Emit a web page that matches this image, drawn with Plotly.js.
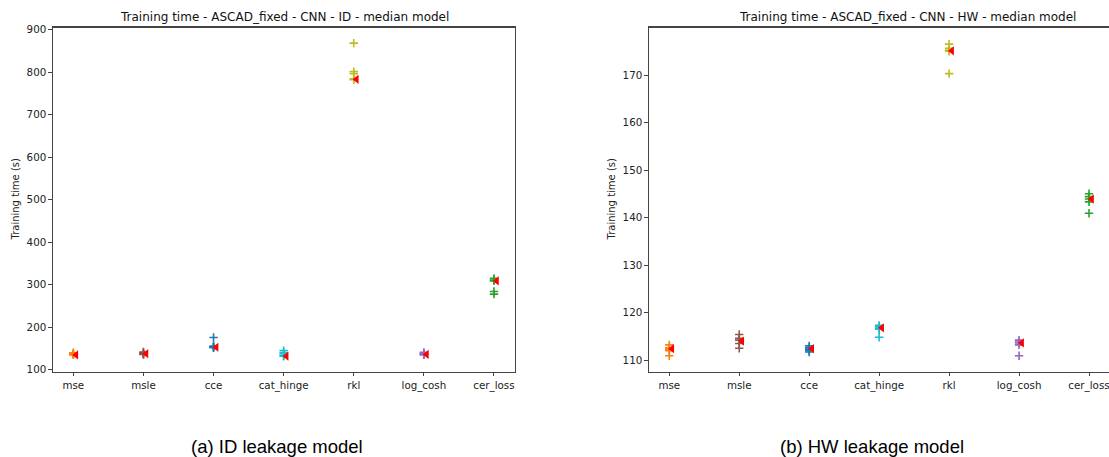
<!DOCTYPE html>
<html>
<head>
<meta charset="utf-8">
<script src="https://cdn.plot.ly/plotly-3.0.1.min.js"></script>
<style>
html,body{margin:0;padding:0;overflow:hidden;background:#fff;}
#chart{width:1170px;height:457px;}
</style>
</head>
<body>
<div id="chart"></div>
<script>
// ---- data ----
const categories = ["mse", "msle", "cce", "cat_hinge", "rkl", "log_cosh", "cer_loss"];
const colors = ["#ff7f0e", "#8c564b", "#1f77b4", "#17becf", "#bcbd22", "#9467bd", "#2ca02c"];

// ID leakage model: training time of each run (s)
const idRuns = [
  [140, 138, 137, 136, 135],
  [142, 140, 138, 137, 136],
  [176, 156, 154, 153, 152],
  [145, 140, 137, 133, 132],
  [868, 801, 796, 784, 782],
  [141, 139, 137, 136, 135],
  [315, 311, 309, 284, 278]
];
const idMedian = [135, 138, 153, 132, 783, 136, 309];

// HW leakage model: training time of each run (s)
const hwRuns = [
  [113.2, 112.6, 112.3, 112.0, 110.9],
  [115.4, 114.6, 114.2, 113.5, 112.5],
  [113.0, 112.6, 112.3, 112.0, 111.7],
  [117.3, 117.0, 116.7, 116.5, 114.8],
  [176.5, 175.6, 175.2, 175.0, 170.3],
  [114.2, 113.8, 113.6, 113.2, 110.9],
  [145.0, 144.4, 143.9, 143.3, 140.9]
];
const hwMedian = [112.4, 114.0, 112.4, 116.8, 175.1, 113.6, 143.9];

const idTitle = "Training time - ASCAD_fixed - CNN - ID - median model";
const hwTitle = "Training time - ASCAD_fixed - CNN - HW - median model";
const idCaption = "(a) ID leakage model";
const hwCaption = "(b) HW leakage model";
const yTitle = "Training time (s)";

// ---- build ----
// The figure is slightly wider than the window; the right edge is cut off as in the reference.
const W = 1170, H = 457;
const px = v => v / W;
const py = v => (H - v) / H;
const medOffset = 0.04;
const idx = categories.map((c, i) => i);

function makeTraces(runs, med, xa, ya) {
  const tr = [];
  runs.forEach((vals, i) => {
    tr.push({
      type: "scatter", mode: "markers", xaxis: xa, yaxis: ya,
      x: vals.map(() => i), y: vals, showlegend: false, hoverinfo: "y",
      marker: {symbol: "cross-thin", size: 6, line: {color: colors[i], width: 1.6}, color: colors[i]}
    });
  });
  tr.push({
    type: "scatter", mode: "markers", xaxis: xa, yaxis: ya,
    x: idx.map(i => i + medOffset), y: med, showlegend: false, hoverinfo: "y",
    marker: {symbol: "triangle-left", size: 8, color: "#ff0000", line: {width: 0}}
  });
  return tr;
}

const traces = makeTraces(idRuns, idMedian, "x", "y").concat(makeTraces(hwRuns, hwMedian, "x2", "y2"));

const axCol = "#444";
const tickFont = {family: "DejaVu Sans", size: 10.3, color: "#222"};
const xBase = {
  tickmode: "array", tickvals: idx, ticktext: categories,
  range: [-0.29, 6.3], showgrid: false, zeroline: false,
  showline: true, linecolor: axCol, linewidth: 1.2, mirror: true,
  ticks: "outside", ticklen: 3.5, tickcolor: axCol, tickwidth: 1,
  tickfont: tickFont, fixedrange: true
};
const yBase = {
  showgrid: false, zeroline: false, showline: true, linecolor: axCol, linewidth: 1.2,
  ticks: "outside", ticklen: 3.5, tickcolor: axCol, tickwidth: 1,
  tickfont: tickFont, fixedrange: true
};

const layout = {
  width: W, height: H,
  margin: {l: 0, r: 0, t: 0, b: 0},
  paper_bgcolor: "#fff", plot_bgcolor: "#fff",
  font: {family: "DejaVu Sans", size: 10, color: "#222"},
  xaxis: Object.assign({}, xBase, {domain: [px(53), px(515)], anchor: "y"}),
  yaxis: Object.assign({}, yBase, {domain: [py(371.5), py(27.5)], range: [96, 904.7],
    tickmode: "array", tickvals: [100,200,300,400,500,600,700,800,900], mirror: true, anchor: "x"}),
  xaxis2: Object.assign({}, xBase, {domain: [px(649), px(1110)], range: [-0.29, 6.3], anchor: "y2"}),
  yaxis2: Object.assign({}, yBase, {domain: [py(371.5), py(27.5)], range: [107.6, 180],
    tickmode: "array", tickvals: [110,120,130,140,150,160,170], mirror: true, anchor: "x2"}),
  annotations: [
    {text: idTitle, xref: "paper", yref: "paper", x: px(284), y: py(17), xanchor: "center", yanchor: "middle",
     showarrow: false, font: {family: "DejaVu Sans", size: 12, color: "#111"}},
    {text: hwTitle, xref: "paper", yref: "paper", x: px(907), y: py(17), xanchor: "center", yanchor: "middle",
     showarrow: false, font: {family: "DejaVu Sans", size: 12, color: "#111"}},
    {text: yTitle, xref: "paper", yref: "paper", x: px(15), y: py(199.5), xanchor: "center", yanchor: "middle",
     textangle: -90, showarrow: false, font: {family: "DejaVu Sans", size: 10, color: "#222"}},
    {text: yTitle, xref: "paper", yref: "paper", x: px(611), y: py(199.5), xanchor: "center", yanchor: "middle",
     textangle: -90, showarrow: false, font: {family: "DejaVu Sans", size: 10, color: "#222"}},
    {text: idCaption, xref: "paper", yref: "paper", x: px(276.5), y: py(446), xanchor: "center", yanchor: "middle",
     showarrow: false, font: {family: "Liberation Sans", size: 18.5, color: "#000"}},
    {text: hwCaption, xref: "paper", yref: "paper", x: px(872), y: py(446), xanchor: "center", yanchor: "middle",
     showarrow: false, font: {family: "Liberation Sans", size: 18.5, color: "#000"}}
  ]
};

Plotly.newPlot("chart", traces, layout, {displayModeBar: false, staticPlot: true});
</script>
</body>
</html>
